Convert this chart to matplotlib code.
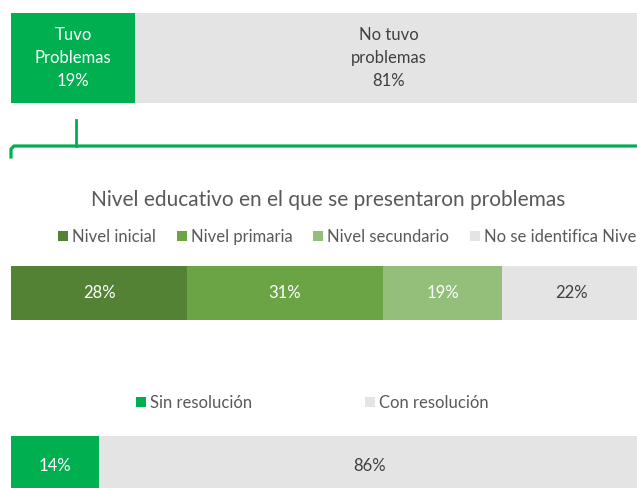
import matplotlib.pyplot as plt

plt.rcParams['font.family'] = ['Lato', 'DejaVu Sans']

# data
top_labels = ['Tuvo\nProblemas', 'No tuvo\nproblemas']
top_values = [19, 81]
top_colors = ['#00B050', '#E4E4E4']

nivel_labels = ['Nivel inicial', 'Nivel primaria', 'Nivel secundario', 'No se identifica Nivel']
nivel_values = [28, 31, 19, 22]
nivel_colors = ['#548235', '#6AA444', '#93BF7B', '#E4E4E4']

res_labels = ['Sin resolución', 'Con resolución']
res_values = [14, 86]
res_colors = ['#00B050', '#E4E4E4']

W, H = 637, 488
fig = plt.figure(figsize=(W / 100, H / 100), dpi=100, facecolor='white')


def px_axes(x0, y0, x1, y1):
    # axes placed by pixel box (top-left origin)
    ax = fig.add_axes([x0 / W, 1 - y1 / H, (x1 - x0) / W, (y1 - y0) / H])
    ax.set_xlim(0, 100)
    ax.set_ylim(-0.5, 0.5)
    ax.axis('off')
    return ax


# top bar
ax1 = px_axes(11, 13, 664, 103)
left = 0
for v, c, lab in zip(top_values, top_colors, top_labels):
    ax1.barh(0, v, left=left, color=c, height=1.0)
    tc = 'white' if c != '#E4E4E4' else '#404040'
    xc = left + v / 2
    if c == '#E4E4E4':
        xc = 100 * (389 - 11) / (664 - 11)  # visible part center
    ax1.text(xc, 0, f'{lab}\n{v}%', ha='center', va='center',
             color=tc, fontsize=12, linespacing=1.5)
    left += v

# bracket
ov = fig.add_axes([0, 0, 1, 1])
ov.set_xlim(0, W)
ov.set_ylim(H, 0)
ov.axis('off')
ov.plot([11, 11, 14, 637], [157, 149, 146, 146], color='#00B050', lw=2.3,
        solid_joinstyle='round')
ov.plot([76, 76], [120, 146], color='#00B050', lw=2)

# middle bar
fig.text(328 / W, 1 - 200 / H, 'Nivel educativo en el que se presentaron problemas',
         ha='center', va='center', fontsize=15, color='#595959')
ax2 = px_axes(11, 266, 641, 320)
left = 0
hs = []
for v, c, lab in zip(nivel_values, nivel_colors, nivel_labels):
    hs.append(ax2.barh(0, v, left=left, color=c, height=1.0, label=lab))
    tc = 'white' if c != '#E4E4E4' else '#404040'
    ax2.text(left + v / 2, 0, f'{v}%', ha='center', va='center', color=tc, fontsize=12)
    left += v
leg = fig.legend(handles=hs, loc='center left', bbox_to_anchor=(51 / W, 1 - 237 / H),
                 ncol=4, frameon=False, fontsize=12, handlelength=0.6, handleheight=0.6,
                 handletextpad=0.25, columnspacing=1.25, borderaxespad=0)
for t in leg.get_texts():
    t.set_color('#595959')

# bottom bar
ax3 = px_axes(11, 436, 640, 496)
left = 0
hs = []
for v, c, lab in zip(res_values, res_colors, res_labels):
    hs.append(ax3.barh(0, v, left=left, color=c, height=1.0, label=lab))
    tc = 'white' if c != '#E4E4E4' else '#404040'
    ax3.text(left + v / 2, 0, f'{v}%', ha='center', va='center', color=tc, fontsize=12)
    left += v
leg2 = fig.legend(handles=hs, loc='center left', bbox_to_anchor=(129 / W, 1 - 403 / H),
                  ncol=2, frameon=False, fontsize=12, handlelength=0.6, handleheight=0.6,
                  handletextpad=0.25, columnspacing=6.8, borderaxespad=0)
for t in leg2.get_texts():
    t.set_color('#595959')

fig.savefig('out.png', dpi=100, facecolor='white')
